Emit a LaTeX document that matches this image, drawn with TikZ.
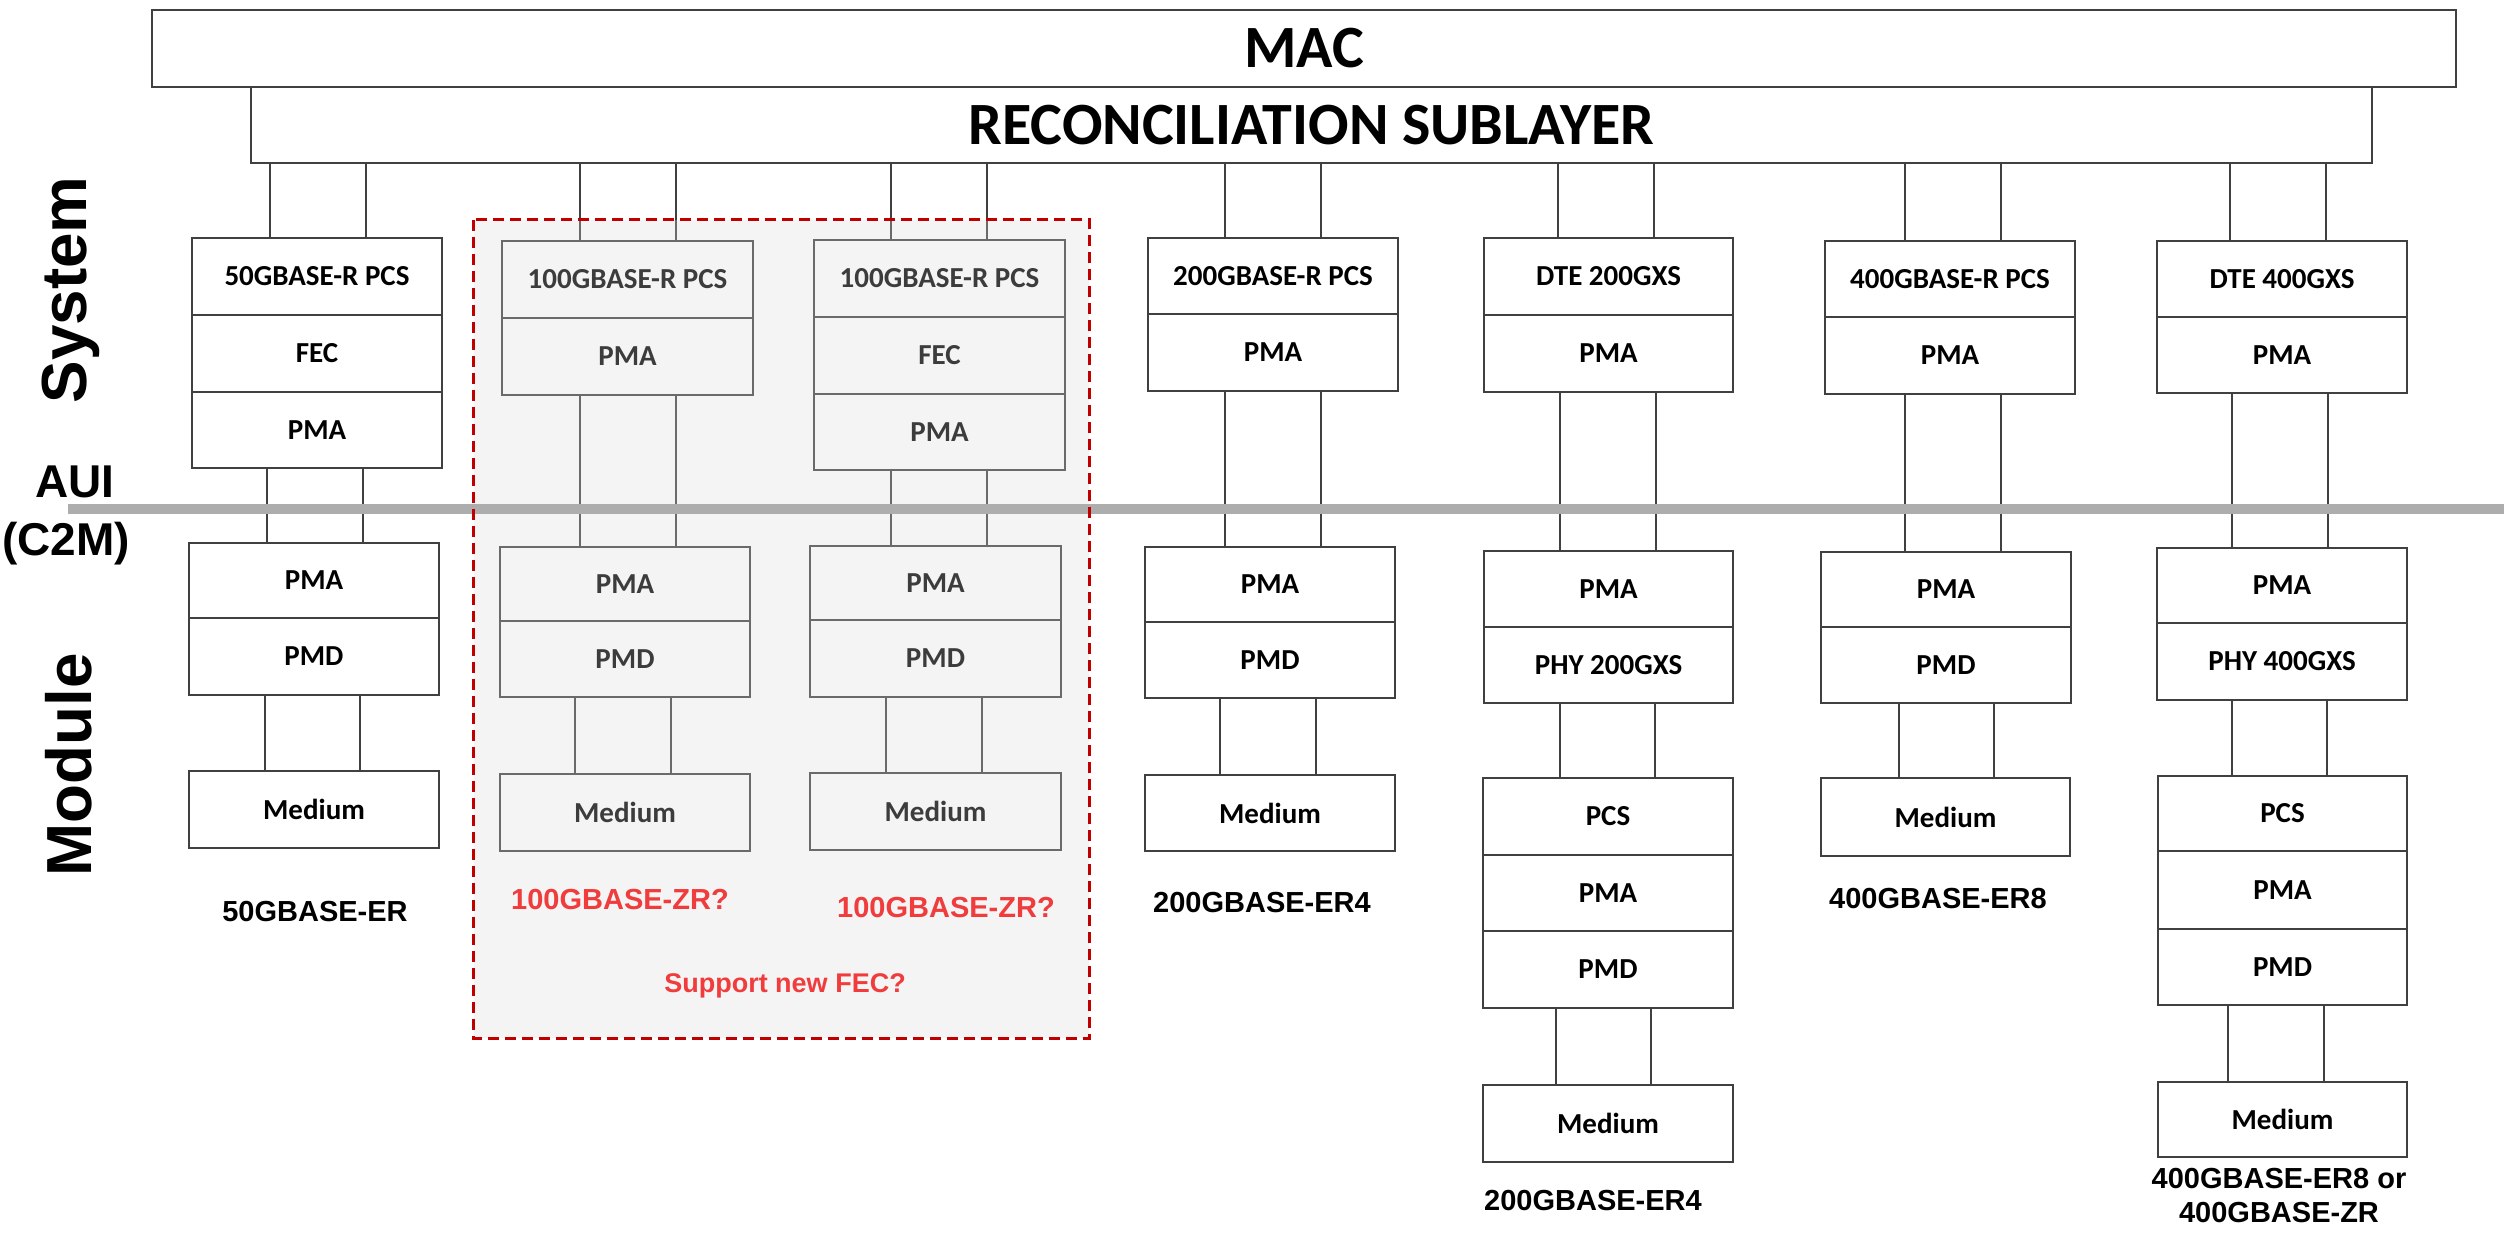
\documentclass[tikz,border=0pt]{standalone}
\usepackage{fontspec}
\newfontfamily\carlito{Carlito}
\newfontfamily\arial{Liberation Sans}
\usetikzlibrary{calc}
\definecolor{boxc}{HTML}{404040}
\definecolor{auic}{HTML}{ADADAD}
\definecolor{dashc}{HTML}{C00000}
\definecolor{qred}{HTML}{F03C3C}
\definecolor{ovc}{HTML}{D8D8D8}
\tikzset{
 boxs/.style={draw=boxc, line width=1.1pt, fill=white, inner sep=0pt, text=black,
   font=\carlito\bfseries\fontsize{11.6}{13}\selectfont},
 bigbox/.style={boxs, font=\carlito\bfseries\fontsize{24}{28}\selectfont},
 fecbg/.style={fill=ovc, fill opacity=0.28, inner sep=0pt},
 dashbox/.style={draw=dashc, line width=1.2pt, dash pattern=on 4.6pt off 2.2pt},
 wire/.style={draw=boxc, line width=0.9pt},
 lbl/.style={font=\arial\bfseries\fontsize{11.6}{13}\selectfont, anchor=base, inner sep=0pt},
 qlbl/.style={lbl, text=qred},
 sidetxt/.style={font=\arial\bfseries\fontsize{25.5}{28}\selectfont, inner sep=0pt, rotate=90, anchor=base},
 auitxt/.style={font=\arial\bfseries\fontsize{18.4}{20}\selectfont, anchor=base, inner sep=0pt},
 auiline/.style={draw=auic, line width=4pt},
}
% [style]{name}{x1}{x2}{y1}{y2}{text}
\newcommand{\lay}[7][boxs]{\node[#1, minimum width={(#4-#3)*0.4pt}, minimum height={(#6-#5)*0.4pt}] (#2) at ({(#3+#4)/2},{(#5+#6)/2}) {#7};}
% {upper}{lower}{xa}{xb}
\newcommand{\lnk}[4]{\path (#3,0) coordinate (lkA) (#4,0) coordinate (lkB);
 \draw[wire] (lkA |- #1.south) -- (lkA |- #2.north) (lkB |- #1.south) -- (lkB |- #2.north);}
\begin{document}
\begin{tikzpicture}[x=0.4pt, y=-0.4pt]
\useasboundingbox (0,0) rectangle (2504,1233);
\fill[white] (0,0) rectangle (2504,1233);

% top layers
\lay[bigbox]{mac}{152}{2456}{10}{87}{MAC}
\lay[bigbox]{rs}{251}{2372}{87}{163}{RECONCILIATION SUBLAYER}

% side labels
\node[sidetxt] (sys) at (86,290) {System};
\node[sidetxt] (mod) at (91,765) {Module};
\node[auitxt] (aui) at (75,497) {AUI};
\node[auitxt] (c2m) at (66,555) {(C2M)};

% column 1
\lay{c1a}{192}{442}{238}{315}{50GBASE-R PCS}
\lay{c1b}{192}{442}{315}{392}{FEC}
\lay{c1c}{192}{442}{392}{468}{PMA}
\lay{c1d}{189}{439}{543}{618}{PMA}
\lay{c1e}{189}{439}{618}{695}{PMD}
\lay{c1f}{189}{439}{771}{848}{Medium}
\lnk{rs}{c1a}{270}{366}
\lnk{c1c}{c1d}{267}{363}
\lnk{c1e}{c1f}{265}{360}
\node[lbl] (c1l) at (315,921) {50GBASE-ER};

% column 2
\lay{c2a}{502}{753}{241}{318}{100GBASE-R PCS}
\lay{c2b}{502}{753}{318}{395}{PMA}
\lay{c2d}{500}{750}{547}{621}{PMA}
\lay{c2e}{500}{750}{621}{697}{PMD}
\lay{c2f}{500}{750}{774}{851}{Medium}
\lnk{rs}{c2a}{580}{676}
\lnk{c2b}{c2d}{580}{676}
\lnk{c2e}{c2f}{575}{671}

% column 3
\lay{c3a}{814}{1065}{240}{317}{100GBASE-R PCS}
\lay{c3b}{814}{1065}{317}{394}{FEC}
\lay{c3c}{814}{1065}{394}{470}{PMA}
\lay{c3d}{810}{1061}{546}{620}{PMA}
\lay{c3e}{810}{1061}{620}{697}{PMD}
\lay{c3f}{810}{1061}{773}{850}{Medium}
\lnk{rs}{c3a}{891}{987}
\lnk{c3c}{c3d}{891}{987}
\lnk{c3e}{c3f}{886}{982}

% column 4
\lay{c4a}{1148}{1398}{238}{314}{200GBASE-R PCS}
\lay{c4b}{1148}{1398}{314}{391}{PMA}
\lay{c4d}{1145}{1395}{547}{622}{PMA}
\lay{c4e}{1145}{1395}{622}{698}{PMD}
\lay{c4f}{1145}{1395}{775}{851}{Medium}
\lnk{rs}{c4a}{1225}{1321}
\lnk{c4b}{c4d}{1225}{1321}
\lnk{c4e}{c4f}{1220}{1316}
\node[lbl] (c4l) at (1262,912) {200GBASE-ER4};

% column 5
\lay{c5a}{1484}{1733}{238}{315}{DTE 200GXS}
\lay{c5b}{1484}{1733}{315}{392}{PMA}
\lay{c5d}{1484}{1733}{551}{627}{PMA}
\lay{c5e}{1484}{1733}{627}{703}{PHY 200GXS}
\lay{c5g}{1483}{1733}{778}{855}{PCS}
\lay{c5h}{1483}{1733}{855}{931}{PMA}
\lay{c5i}{1483}{1733}{931}{1008}{PMD}
\lay{c5f}{1483}{1733}{1085}{1162}{Medium}
\lnk{rs}{c5a}{1558}{1654}
\lnk{c5b}{c5d}{1560}{1656}
\lnk{c5e}{c5g}{1560}{1655}
\lnk{c5i}{c5f}{1556}{1651}
\node[lbl] (c5l) at (1593,1210) {200GBASE-ER4};

% column 6
\lay{c6a}{1825}{2075}{241}{317}{400GBASE-R PCS}
\lay{c6b}{1825}{2075}{317}{394}{PMA}
\lay{c6d}{1821}{2071}{552}{627}{PMA}
\lay{c6e}{1821}{2071}{627}{703}{PMD}
\lay{c6f}{1821}{2070}{778}{856}{Medium}
\lnk{rs}{c6a}{1905}{2001}
\lnk{c6b}{c6d}{1905}{2001}
\lnk{c6e}{c6f}{1899}{1994}
\node[lbl] (c6l) at (1938,908) {400GBASE-ER8};

% column 7
\lay{c7a}{2157}{2407}{241}{317}{DTE 400GXS}
\lay{c7b}{2157}{2407}{317}{393}{PMA}
\lay{c7d}{2157}{2407}{548}{623}{PMA}
\lay{c7e}{2157}{2407}{623}{700}{PHY 400GXS}
\lay{c7g}{2158}{2407}{776}{851}{PCS}
\lay{c7h}{2158}{2407}{851}{929}{PMA}
\lay{c7i}{2158}{2407}{929}{1005}{PMD}
\lay{c7f}{2158}{2407}{1082}{1157}{Medium}
\lnk{rs}{c7a}{2230}{2326}
\lnk{c7b}{c7d}{2232}{2328}
\lnk{c7e}{c7g}{2232}{2327}
\lnk{c7i}{c7f}{2228}{2324}
\node[lbl] (c7l) at (2279,1188) {400GBASE-ER8 or};
\node[lbl] (c7m) at (2279,1222) {400GBASE-ZR};

% grey overlay of the FEC question group
\lay[fecbg]{fecgrp}{474}{1089}{220}{1038}{}

% AUI boundary line
\path (68,509) coordinate (auiL) (2504,509) coordinate (auiR);
\draw[auiline] (auiL) -- (auiR);

\draw[dashbox] (fecgrp.north west) rectangle (fecgrp.south east);
\node[qlbl] (c2l) at (620,909) {100GBASE-ZR?};
\node[qlbl] (c3l) at (946,917) {100GBASE-ZR?};
\node[qlbl, font=\arial\bfseries\fontsize{10.8}{12}\selectfont] (fecq) at (785,992) {Support new FEC?};
\end{tikzpicture}
\end{document}
